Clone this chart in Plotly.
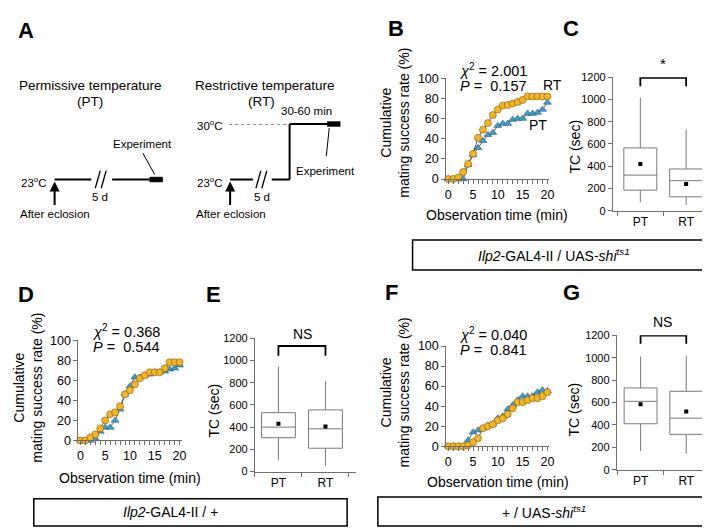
import plotly.graph_objects as go

W, H = 710, 529
FONT = "Liberation Sans, Arial, sans-serif"
GOLD = "#F5B523"
BLUE = "#3D9CC9"
AXC = "#6e6e6e"

# ---------------- data ----------------
time_min = list(range(21))
b_rt = [0, 0, 1.6, 7, 15, 25, 41, 49, 55.5, 63.5, 69, 73, 73.5, 75, 76.5, 78.5, 82, 82, 82, 82, 82]
b_pt = [0, 0, 0, 0, 14, 24, 31, 38, 44, 46, 53, 55, 55, 59, 60, 60, 65, 65, 66, 69, 76]
d_rt = [0, 0, 3, 6, 12, 20, 26, 28, 34, 46, 50, 56, 62, 65, 68, 68, 68, 72, 78, 78, 78]
d_pt = [0, 0, 0, 2, 9, 13, 13, 20, 31, 46, 54, 63, 63, 65, 66, 68, 68, 69, 71, 72, 75]
f_rt = [0, 0, 0, 0, 1, 4, 8, 18, 20, 22, 26, 28, 32, 38, 44, 44, 46, 48, 48, 50, 54]
f_pt = [0, 0, 0, 0, 6, 14, 16, 18, 21, 22, 28, 30, 37, 41, 46, 50, 50, 50, 54, 56, 55]

groups = ["PT", "RT"]
c_q1, c_med, c_q3, c_lo, c_hi, c_mean = [185, 125], [320, 270], [565, 375], [75, 50], [1015, 730], [420, 240]
e_q1, e_med, e_q3, e_lo, e_hi, e_mean = [305, 210], [400, 385], [530, 555], [100, 50], [945, 815], [430, 405]
g_q1, g_med, g_q3, g_lo, g_hi, g_mean = [410, 315], [610, 460], [730, 700], [165, 140], [1010, 1020], [585, 520]

stats = {"B": ("2.001", "0.157"), "D": ("0.368", "0.544"), "F": ("0.040", "0.841")}
sig = {"C": "*", "E": "NS", "G": "NS"}


def X(p):
    return p / W


def Y(p):
    return 1 - p / H


fig = go.Figure()
annotations = []
shapes = []


def text(x, y, s, size=13, xanchor="center", angle=0, bold=False):
    annotations.append(dict(xref="paper", yref="paper", x=X(x), y=Y(y), text=("<b>%s</b>" % s) if bold else s,
                            showarrow=False, xanchor=xanchor, yanchor="middle", textangle=angle,
                            font=dict(family=FONT, size=size, color="black")))


def line(x0, y0, x1, y1, w=2, color="black", dash=None):
    shapes.append(dict(type="line", xref="paper", yref="paper", x0=X(x0), y0=Y(y0), x1=X(x1), y1=Y(y1),
                       line=dict(color=color, width=w, dash=dash)))


def rect(x0, y0, x1, y1, fill="rgba(0,0,0,0)", w=1.5):
    shapes.append(dict(type="rect", xref="paper", yref="paper", x0=X(x0), y0=Y(y0), x1=X(x1), y1=Y(y1),
                       line=dict(color="black", width=w), fillcolor=fill))


# ---------------- line charts ----------------
line_axes = [
    ("x", "y", b_pt, b_rt, 441, 545, 168.5, 65),
    ("x3", "y3", d_pt, d_rt, 70, 174, 437, 334),
    ("x5", "y5", f_pt, f_rt, 441, 545, 443, 340),
]
layout_axes = {}
for xa, ya, pt, rt, x0, x1, yb, yt in line_axes:
    fig.add_trace(go.Scatter(x=time_min, y=pt, mode="lines+markers", xaxis=xa, yaxis=ya, cliponaxis=False,
                             line=dict(color="#3a3a3a", width=0.8),
                             marker=dict(symbol="triangle-up", size=7, color=BLUE,
                                         line=dict(color="#2d5f78", width=0.6)), showlegend=False))
    fig.add_trace(go.Scatter(x=time_min, y=rt, mode="lines+markers", xaxis=xa, yaxis=ya, cliponaxis=False,
                             line=dict(color="#3a3a3a", width=0.8),
                             marker=dict(symbol="circle", size=7, color=GOLD,
                                         line=dict(color="#7a5a10", width=0.6)), showlegend=False))
    xn = "xaxis" + xa[1:]
    yn = "yaxis" + ya[1:]
    layout_axes[xn] = dict(domain=[X(x0), X(x1)], anchor=ya, range=[-0.4, 20.4], tickmode="linear", tick0=0,
                           dtick=5, ticks="outside", ticklen=4, tickcolor=AXC, showline=True, linecolor=AXC,
                           showgrid=False, zeroline=False, tickfont=dict(family=FONT, size=12.5, color="black"),
                           minor=dict(dtick=1, ticks="outside", ticklen=4, tickcolor=AXC, showgrid=False))
    layout_axes[yn] = dict(domain=[Y(yb), Y(yt)], anchor=xa, range=[0, 100], dtick=20, ticks="outside",
                           ticklen=4, tickcolor=AXC, showline=True, linecolor=AXC, showgrid=False,
                           zeroline=False, tickfont=dict(family=FONT, size=12.5, color="black"))

# ---------------- box plots ----------------
box_axes = [
    ("x2", "y2", (c_q1, c_med, c_q3, c_lo, c_hi, c_mean), 609, 706, [-0.6, 1.5], 201, 64, sig["C"], (1120, 1195), 660, 50),
    ("x4", "y4", (e_q1, e_med, e_q3, e_lo, e_hi, e_mean), 248, 350, [-0.5, 1.65], 469, 332, sig["E"], (1042, 1130), 296, 328),
    ("x6", "y6", (g_q1, g_med, g_q3, g_lo, g_hi, g_mean), 613, 707, [-0.52, 1.52], 467, 329, sig["G"], (1125, 1198), 659, 315),
]
for xa, ya, (q1, med, q3, lo, hi, mean), x0, x1, xr, yb, yt, s, (bl, bt), sx, sy in box_axes:
    fig.add_trace(go.Box(x=groups, q1=q1, median=med, q3=q3, lowerfence=lo, upperfence=hi, xaxis=xa, yaxis=ya,
                         width=0.72, whiskerwidth=0, fillcolor="white", line=dict(color="#7a7a7a", width=1),
                         boxpoints=False, showlegend=False, hoverinfo="skip"))
    fig.add_trace(go.Scatter(x=groups, y=mean, mode="markers", xaxis=xa, yaxis=ya,
                             marker=dict(symbol="square", size=4, color="black"), showlegend=False))
    fig.add_trace(go.Scatter(x=[groups[0], groups[0], groups[1], groups[1]], y=[bl, bt, bt, bl], mode="lines",
                             xaxis=xa, yaxis=ya, cliponaxis=False, line=dict(color="black", width=1.8),
                             showlegend=False))
    xn = "xaxis" + xa[1:]
    yn = "yaxis" + ya[1:]
    layout_axes[xn] = dict(domain=[X(x0), X(x1)], anchor=ya, type="category", categoryarray=groups, range=xr,
                           tickson="boundaries", ticks="outside", ticklen=4, tickcolor=AXC, showline=True,
                           linecolor=AXC, showgrid=False, zeroline=False,
                           tickfont=dict(family=FONT, size=12, color="black"))
    layout_axes[yn] = dict(domain=[Y(yb), Y(yt)], anchor=xa, range=[0, 1200], dtick=200, ticks="outside",
                           ticklen=4, tickcolor=AXC, showline=True, linecolor=AXC, showgrid=False,
                           zeroline=False, tickfont=dict(family=FONT, size=11, color="black"))
    text(sx, sy, s, size=15 if s == "*" else 14)

# ---------------- axis titles & stats text ----------------
ytitle = "Cumulative<br>mating success rate (%)"
text(389, 111, ytitle, size=14, angle=-90)
text(19, 383, ytitle, size=14, angle=-90)
text(389, 388, ytitle, size=14, angle=-90)
text(492, 205, "Observation time (min)", size=14)
text(122, 476, "Observation time (min)", size=14)
text(493, 480, "Observation time (min)", size=14)
text(571, 135, "TC (sec)", size=14, angle=-90)
text(207, 406, "TC (sec)", size=14, angle=-90)
text(570, 405, "TC (sec)", size=14, angle=-90)

for key, (cx, cy) in {"B": (452, 57), "D": (82, 325), "F": (452, 328)}.items():
    chi, p = stats[key]
    text(cx, cy, "<i>χ</i><sup>2</sup> = %s" % chi, size=14.5, xanchor="left")
    text(cx + 1, cy + 16, "<i>P</i> =&nbsp; %s" % p, size=14.5, xanchor="left")
text(537, 72, "RT", size=14, xanchor="left")
text(522, 113, "PT", size=14, xanchor="left")

# ---------------- panel letters ----------------
for L, (lx, ly) in {"A": (7, 16), "B": (380, 14), "C": (557, 14), "D": (7, 287), "E": (197, 287),
                    "F": (377, 285), "G": (557, 285)}.items():
    text(lx, ly, L, size=22, xanchor="left", bold=True)

# ---------------- genotype boxes ----------------
rect(407, 231, 700, 262)
text(550, 247, "<i>Ilp2</i>-GAL4-II / UAS-<i>shi</i><sup><i>ts1</i></sup>", size=14)
rect(25, 497, 341, 525)
text(163, 511, "<i>Ilp2</i>-GAL4-II / +", size=14)
rect(372, 495, 707, 525)
text(540, 511, "+ / UAS-<i>shi</i><sup><i>ts1</i></sup>", size=14)

# ---------------- panel A schematic ----------------
text(82, 72, "Permissive temperature", size=13.5)
text(82, 89, "(PT)", size=13.5)
text(258, 72, "Restrictive temperature", size=13.5)
text(255, 89, "(RT)", size=13.5)
text(10, 172, "23<sup>o</sup>C", size=11.5, xanchor="left")
text(188, 172, "23<sup>o</sup>C", size=11.5, xanchor="left")
text(188, 113, "30<sup>o</sup>C", size=11.5, xanchor="left")
text(92, 187, "5 d", size=11.5)
text(255, 187, "5 d", size=11.5)
text(134.5, 132, "Experiment", size=11.5)
text(319, 160, "Experiment", size=11.5)
text(300, 99, "30-60 min", size=11.5)
text(46, 204, "After eclosion", size=11.5)
text(224, 204, "After eclosion", size=11.5)

# PT timeline
line(46, 169, 83, 169)
line(87, 178, 92, 160, w=1.3)
line(93, 178, 98, 160, w=1.3)
line(104, 169, 142, 169)
rect(142, 166.5, 155, 171.5, fill="black", w=0.5)
line(135, 142, 147, 164, w=1)
# RT timeline
line(223, 169, 246, 169)
line(249, 178, 254, 160, w=1.3)
line(255, 178, 260, 160, w=1.3)
line(265, 169, 283, 169)
line(283, 169, 283, 112)
line(283, 112, 322, 112)
rect(321, 109.5, 334, 114.5, fill="black", w=0.5)
line(222, 112.5, 282, 112.5, w=1, color="#888888", dash="dot")
line(320, 145, 323, 116, w=1)

for ax_x in (46, 223):
    annotations.append(dict(xref="paper", yref="paper", x=X(ax_x), y=Y(171), ax=0, ay=25, text="",
                            showarrow=True, arrowhead=2, arrowsize=1, arrowwidth=2, arrowcolor="black"))

fig.update_layout(width=W, height=H, margin=dict(l=0, r=0, t=0, b=0), paper_bgcolor="white",
                  plot_bgcolor="white", showlegend=False, annotations=annotations, shapes=shapes,
                  font=dict(family=FONT, color="black"), **layout_axes)
fig.write_html("out.html")
